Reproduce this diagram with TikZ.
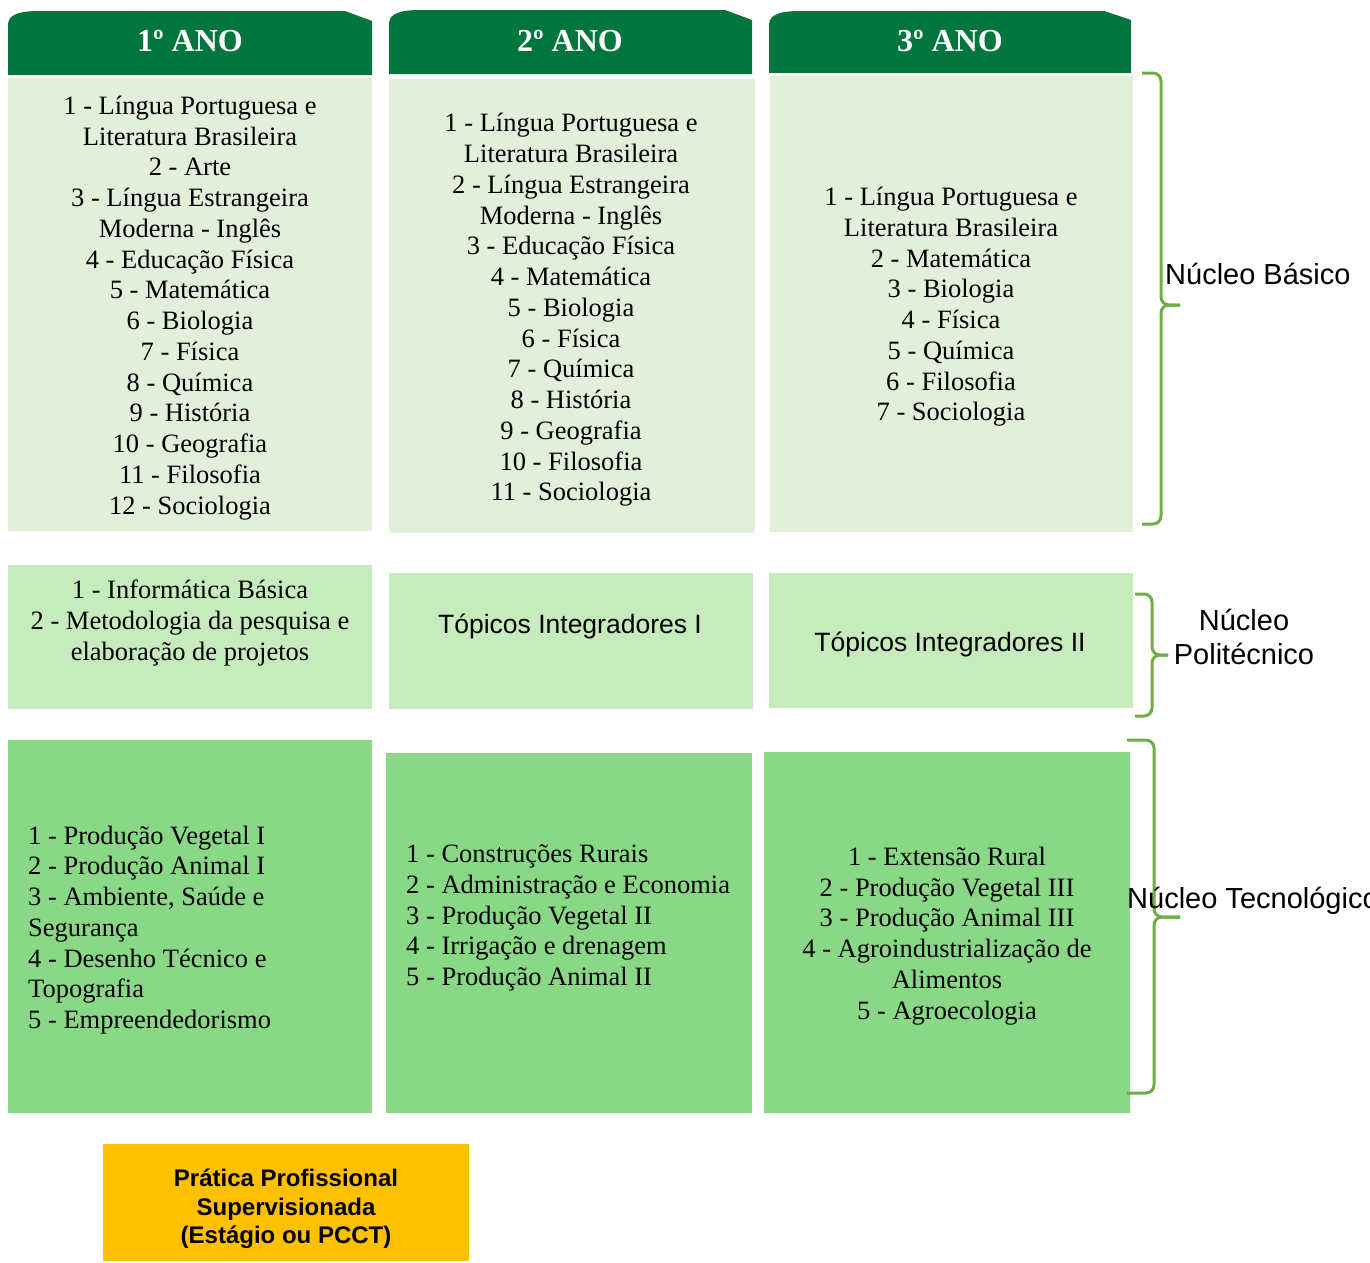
\documentclass[tikz,border=0pt]{standalone}
\usepackage{fontspec}
\setmainfont{Liberation Serif}
\newfontfamily\arialf{Liberation Sans}
\definecolor{hdrgreen}{RGB}{0,117,62}
\definecolor{lightg}{RGB}{226,239,218}
\definecolor{midg}{RGB}{198,236,190}
\definecolor{darkg}{RGB}{137,216,133}
\definecolor{bracec}{RGB}{112,173,71}
\definecolor{yell}{RGB}{255,192,0}
\begin{document}
\begin{tikzpicture}[x=1pt,y=-1pt,
  hdrtext/.style={font=\bfseries\fontsize{32}{36}\selectfont, text=white, inner sep=0},
  bodytext/.style={font=\fontsize{26.5}{30.75}\selectfont, align=center, inner sep=0},
  lefttext/.style={font=\fontsize{26.5}{30.75}\selectfont, align=left, inner sep=0, anchor=west},
  sanstext/.style={font=\arialf\fontsize{26.5}{31}\selectfont, align=center, inner sep=0},
  labtext/.style={font=\arialf\fontsize{29}{34}\selectfont, align=center, inner sep=0},
  bracestyle/.style={draw=bracec, line width=3pt, rounded corners=8pt}]
\useasboundingbox (0,0) rectangle (1370,1262);
% headers
\fill[hdrgreen] (8,75) -- (8,25) .. controls (8,14) and (20,11) .. (40,11) -- (345,11) -- (372,21) -- (372,75) -- cycle;
\fill[hdrgreen] (389,74) -- (389,24) .. controls (389,13) and (401,10) .. (421,10) -- (725,10) -- (752,20) -- (752,74) -- cycle;
\fill[hdrgreen] (769,73) -- (769,25) .. controls (769,14) and (781,11) .. (801,11) -- (1104,11) -- (1131,20) -- (1131,73) -- cycle;
\node[hdrtext] (h1) at (190,41) {1º ANO};
\node[hdrtext] (h2) at (570,41) {2º ANO};
\node[hdrtext] (h3) at (950,41) {3º ANO};
% row 1 boxes
\fill[lightg] (8,78) rectangle (372,531);
\fill[lightg] (389,79) rectangle (755,533);
\fill[lightg] (770,76) rectangle (1133,532);
\node[bodytext] (t11) at (190,308) {1 - Língua Portuguesa e\\Literatura Brasileira\\2 - Arte\\3 - Língua Estrangeira\\Moderna - Inglês\\4 - Educação Física\\5 - Matemática\\6 - Biologia\\7 - Física\\8 - Química\\9 - História\\10 - Geografia\\11 - Filosofia\\12 - Sociologia};
\node[bodytext] (t12) at (571,310) {1 - Língua Portuguesa e\\Literatura Brasileira\\2 - Língua Estrangeira\\Moderna - Inglês\\3 - Educação Física\\4 - Matemática\\5 - Biologia\\6 - Física\\7 - Química\\8 - História\\9 - Geografia\\10 - Filosofia\\11 - Sociologia};
\node[bodytext] (t13) at (951,307) {1 - Língua Portuguesa e\\Literatura Brasileira\\2 - Matemática\\3 - Biologia\\4 - Física\\5 - Química\\6 - Filosofia\\7 - Sociologia};
% row 2 boxes
\fill[midg] (8,565) rectangle (372,709);
\fill[midg] (389,573) rectangle (753,709);
\fill[midg] (769,573) rectangle (1133,708);
\node[bodytext] (t21) at (190,623) {1 - Informática Básica\\2 - Metodologia da pesquisa e\\elaboração de projetos};
\node[sanstext] (t22) at (570,626) {Tópicos Integradores I};
\node[sanstext] (t23) at (950,644) {Tópicos Integradores II};
% row 3 boxes
\fill[darkg] (8,740) rectangle (372,1113);
\fill[darkg] (386,753) rectangle (752,1113);
\fill[darkg] (764,752) rectangle (1130,1113);
\node[lefttext] (t31) at (28,930) {1 - Produção Vegetal I\\2 - Produção Animal I\\3 - Ambiente, Saúde e\\Segurança\\4 - Desenho Técnico e\\Topografia\\5 - Empreendedorismo};
\node[lefttext] (t32) at (406,918) {1 - Construções Rurais\\2 - Administração e Economia\\3 - Produção Vegetal II\\4 - Irrigação e drenagem\\5 - Produção Animal II};
\node[bodytext] (t33) at (947,936) {1 - Extensão Rural\\2 - Produção Vegetal III\\3 - Produção Animal III\\4 - Agroindustrialização de\\Alimentos\\5 - Agroecologia};
% yellow box
\fill[yell] (103,1144) rectangle (469,1261);
\node[font=\arialf\bfseries\fontsize{24}{28.5}\selectfont, align=center, inner sep=0] (pps) at (286,1209) {Prática Profissional\\Supervisionada\\(Estágio ou PCCT)};
% braces
\coordinate (b1t) at (1142,73); \coordinate (b1m) at (1180,305); \coordinate (b1b) at (1142,524);
\draw[bracestyle] (b1t) -- (1161,73) -- (1161,305) -- (b1m);
\draw[bracestyle] (b1m) -- (1161,305) -- (1161,524) -- (b1b);
\coordinate (b2t) at (1135,594); \coordinate (b2m) at (1168,655); \coordinate (b2b) at (1135,716);
\draw[bracestyle] (b2t) -- (1152,594) -- (1152,655) -- (b2m);
\draw[bracestyle] (b2m) -- (1152,655) -- (1152,716) -- (b2b);
\coordinate (b3t) at (1127,740); \coordinate (b3m) at (1180,917); \coordinate (b3b) at (1127,1093);
\draw[bracestyle] (b3t) -- (1154,740) -- (1154,917) -- (b3m);
\draw[bracestyle] (b3m) -- (1154,917) -- (1154,1093) -- (b3b);
% labels
\node[labtext, anchor=west] (nb) at (1165,274) {Núcleo Básico};
\node[labtext] (np) at (1244,637) {Núcleo\\Politécnico};
\node[labtext, anchor=west] (nt) at (1127,901) {Núcleo Tecnológico};
\end{tikzpicture}
\end{document}
